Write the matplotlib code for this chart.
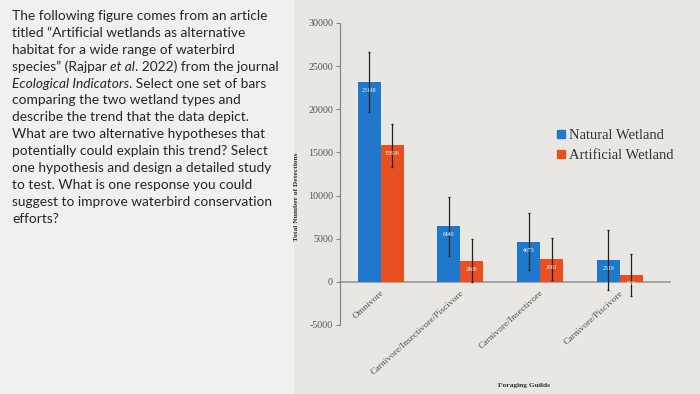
import matplotlib
matplotlib.use("Agg")
import matplotlib.pyplot as plt
import numpy as np
from matplotlib.patches import Patch, Rectangle

# --- data ---
guilds = ["Omnivore", "Carnivore/Insectivore/Piscivore",
          "Carnivore/Insectivore", "Carnivore/Piscivore"]
natural = [23148, 6440, 4673, 2519]
artificial = [15836, 2468, 2661, 800]
natural_err = [3450, 3400, 3350, 3500]
artificial_err = [2500, 2450, 2400, 2450]
series_names = ["Natural Wetland", "Artificial Wetland"]
yticks = [-5000, 0, 5000, 10000, 15000, 20000, 25000, 30000]

# question text, each line as (text, italic) segments
question = [
    [("The following figure comes from an article", False)],
    [("titled \u201cArtificial wetlands as alternative", False)],
    [("habitat for a wide range of waterbird", False)],
    [("species\u201d (Rajpar ", False), ("et al", True), (". 2022) from the journal", False)],
    [("Ecological Indicators", True), (". Select one set of bars", False)],
    [("comparing the two wetland types and", False)],
    [("describe the trend that the data depict.", False)],
    [("What are two alternative hypotheses that", False)],
    [("potentially could explain this trend? Select", False)],
    [("one hypothesis and design a detailed study", False)],
    [("to test. What is one response you could", False)],
    [("suggest to improve waterbird conservation", False)],
    [("efforts?", False)],
]

BLUE = "#1f78cc"
RED = "#e9501f"
GREY = "#555555"

fig = plt.figure(figsize=(7, 3.94), dpi=100, facecolor="#e9e7e3")
# lighter panel behind the question text
fig.add_artist(Rectangle((0, 0), 0.42, 1, transform=fig.transFigure,
                         facecolor="#f1f0ee", edgecolor="none", zorder=0))

# --- question text on the left ---
renderer = fig.canvas.get_renderer()
x0, y_top, dy = 12 / 700, 1 - 16 / 394, 16.9 / 394
for i, segs in enumerate(question):
    x = x0
    y = y_top - i * dy
    for txt, ital in segs:
        t = fig.text(x, y, txt, fontsize=9.9, family="Lato", color="#262626",
                     style="italic" if ital else "normal", va="center", ha="left")
        bb = t.get_window_extent(renderer)
        x = bb.x1 / fig.bbox.width

# --- bar chart ---
ax = fig.add_axes([340 / 700, 1 - 325 / 394, 330 / 700, 302 / 394])
ax.set_facecolor("none")
# x axis line sits at zero, tick labels hang from it (set before ticks)
for s in ("top", "right"):
    ax.spines[s].set_visible(False)
ax.spines["bottom"].set_position(("data", 0))
ax.spines["bottom"].set_color("#999999")
ax.spines["bottom"].set_linewidth(1.2)
ax.spines["bottom"].set_zorder(0.5)
ax.spines["left"].set_color("#888888")
ax.spines["left"].set_linewidth(0.9)

x = np.arange(len(guilds))
w = 0.29
b1 = ax.bar(x - w / 2, natural, w, color=BLUE, yerr=natural_err,
            error_kw=dict(ecolor="#222222", elinewidth=0.9, capsize=1))
b2 = ax.bar(x + w / 2, artificial, w, color=RED, yerr=artificial_err,
            error_kw=dict(ecolor="#222222", elinewidth=0.9, capsize=1))

for bars, vals in ((b1, natural), (b2, artificial)):
    for rect, v in zip(bars, vals):
        ax.text(rect.get_x() + rect.get_width() / 2, v - 700, str(v),
                ha="center", va="top", fontsize=4.2, color="white",
                family="Liberation Serif")

ax.set_ylim(-5000, 30000)
ax.set_xlim(-0.51, 3.63)
ax.set_yticks(yticks)
ax.set_yticklabels([str(v) for v in yticks], family="Liberation Serif",
                   fontsize=7.2, color=GREY)
ax.tick_params(axis="y", length=3, width=0.8, color="#888888", pad=2)
ax.set_xticks(x)
ax.set_xticklabels(guilds, rotation=42, ha="right", va="top",
                   rotation_mode="anchor", family="Liberation Serif",
                   fontsize=6.8, color=GREY)
ax.tick_params(axis="x", length=0, pad=5)

fig.text(297 / 700, 1 - 197 / 394, "Total Number of Detections", rotation=90,
         ha="center", va="center", fontsize=5.4, fontweight="bold",
         family="Liberation Serif", color="#333333")
fig.text(524 / 700, 1 - 385 / 394, "Foraging Guilds", ha="center",
         va="center", fontsize=5.4, fontweight="bold",
         family="Liberation Serif", color="#333333")

handles = [Patch(color=BLUE), Patch(color=RED)]
fig.legend(handles, series_names, loc="upper left",
           bbox_to_anchor=(550 / 700, 1 - 122 / 394), frameon=False,
           prop=dict(family="Liberation Serif", size=10.5),
           labelcolor="#333333", handlelength=0.5, handleheight=0.5,
           handletextpad=0.3, labelspacing=0.45, borderpad=0)

fig.savefig("out.png", dpi=100, facecolor=fig.get_facecolor())
